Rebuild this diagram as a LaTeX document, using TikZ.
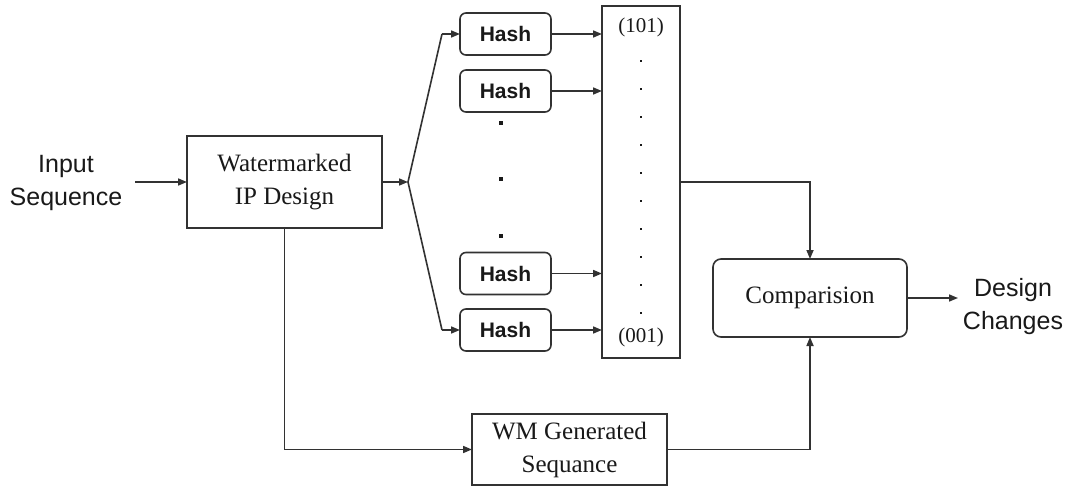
\documentclass[tikz,border=0pt]{standalone}
\usepackage{fontspec}
\setmainfont{Liberation Serif}
\setsansfont{Liberation Sans}
\usetikzlibrary{arrows.meta}
\definecolor{ln}{RGB}{50,50,50}
\definecolor{tx}{RGB}{25,25,25}
\begin{document}
\begin{tikzpicture}[x=1pt,y=-1pt,
  every node/.style={inner sep=0pt,outer sep=0pt,text=tx},
  conn/.style={draw=ln,line width=1.6pt},
  arr/.style={conn,-{Triangle[length=9pt,width=7pt]}},
  box/.style={draw=ln,line width=1.6pt,rectangle,align=center,font=\fontsize{25}{33}\selectfont},
  hashbox/.style={draw=ln,line width=1.6pt,rectangle,rounded corners=6pt,minimum width=91pt,minimum height=42pt,font=\sffamily\bfseries\fontsize{21}{25}\selectfont},
  lbl/.style={align=center,font=\sffamily\fontsize{25}{33}\selectfont},
  col/.style={font=\fontsize{21}{25}\selectfont}]
\useasboundingbox (0,0) rectangle (1075,486);
\fill[white] (0,0) rectangle (1075,486);

\node[lbl] (inp) at (66,183) {Input\\Sequence};
\coordinate (inpend) at (135,182);
\node[box,minimum width=195pt,minimum height=92pt] (wm) at (284.5,182) {Watermarked\\IP Design};
\coordinate (br) at (408,182);

\node[hashbox] (h1) at (505.5,34) {Hash};
\node[hashbox] (h2) at (505.5,91) {Hash};
\node[hashbox] (h3) at (505.5,273.5) {Hash};
\node[hashbox] (h4) at (505.5,330) {Hash};
\coordinate (bt) at (442,34);
\coordinate (bb) at (442,330);

\node[draw=ln,line width=1.6pt,rectangle,minimum width=78pt,minimum height=352pt] (cb) at (641,182) {};
\node[col] (c101) at (641,27) {(101)};
\node[col] (c001) at (641,337) {(001)};
\foreach \k in {0,...,9}{\fill[tx] (641-1.1,61+28*\k-1.1) rectangle (641+1.1,61+28*\k+1.1);}
\foreach \yy in {123,179,236}{\fill[tx] (501-2,\yy-2) rectangle (501+2,\yy+2);}

\node[box,rounded corners=8pt,minimum width=194pt,minimum height=78pt] (cmp) at (810,298) {Comparision};
\node[box,minimum width=195pt,minimum height=71pt] (gen) at (569.5,449.5) {WM Generated\\Sequance};
\node[lbl] (out) at (1013,307) {Design\\Changes};
\coordinate (outend) at (958,298);

\draw[arr] (inpend) -- (wm.west);
\draw[arr] (wm.east) -- (br);
\draw[conn] (br) -- (bt);
\draw[arr] (bt) -- (h1.west);
\draw[conn] (br) -- (bb);
\draw[arr] (bb) -- (h4.west);
\foreach \h in {h1,h2,h3,h4}{\draw[arr] (\h.east) -- (\h.east -| cb.west);}
\draw[arr] (cb.east) -| (cmp.north);
\draw[arr] (wm.south) |- (gen.west);
\draw[arr] (gen.east) -| (cmp.south);
\draw[arr] (cmp.east) -- (outend);
\end{tikzpicture}
\end{document}
